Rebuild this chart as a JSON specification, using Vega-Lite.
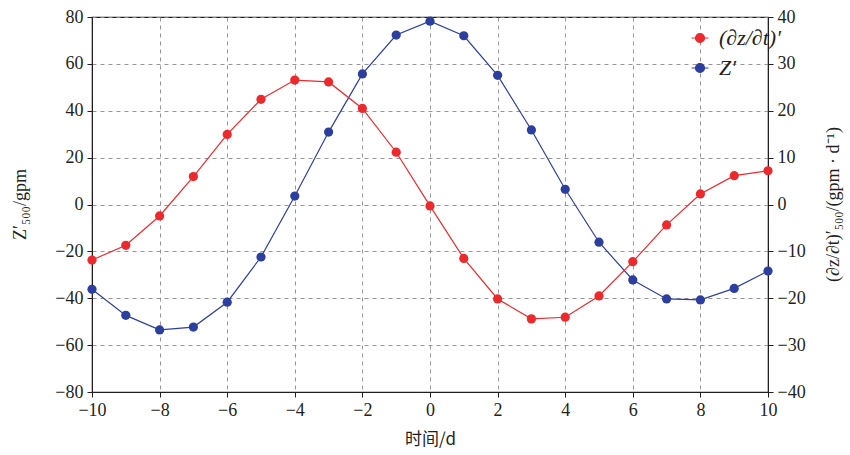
{
  "$schema": "https://vega.github.io/schema/vega-lite/v6.json",
  "width": 676,
  "height": 375,
  "autosize": {"type": "none"},
  "padding": {"left": 92, "top": 17, "right": 82, "bottom": 63},
  "background": "white",
  "config": {
    "font": "Liberation Serif",
    "view": {"stroke": "#231f20", "strokeWidth": 1.2},
    "axis": {
      "labelFont": "Liberation Serif",
      "labelFontSize": 18,
      "labelColor": "#231f20",
      "labelFlush": false,
      "labelOverlap": false,
      "titleFont": "Liberation Serif",
      "titleFontSize": 18,
      "titleFontWeight": "normal",
      "titleColor": "#231f20",
      "domainColor": "#231f20",
      "tickColor": "#231f20",
      "gridColor": "#8a8a8a",
      "gridDash": [4, 4],
      "gridWidth": 0.9
    }
  },
  "data": {
    "values": [
      {"t": -10, "series": "Z′", "v": -36.2},
      {"t": -9, "series": "Z′", "v": -47.3},
      {"t": -8, "series": "Z′", "v": -53.5},
      {"t": -7, "series": "Z′", "v": -52.3},
      {"t": -6, "series": "Z′", "v": -41.7},
      {"t": -5, "series": "Z′", "v": -22.4},
      {"t": -4, "series": "Z′", "v": 3.6},
      {"t": -3, "series": "Z′", "v": 30.9},
      {"t": -2, "series": "Z′", "v": 55.7},
      {"t": -1, "series": "Z′", "v": 72.3},
      {"t": 0, "series": "Z′", "v": 78.2},
      {"t": 1, "series": "Z′", "v": 72.0},
      {"t": 2, "series": "Z′", "v": 55.1},
      {"t": 3, "series": "Z′", "v": 31.8},
      {"t": 4, "series": "Z′", "v": 6.5},
      {"t": 5, "series": "Z′", "v": -16.1},
      {"t": 6, "series": "Z′", "v": -32.2},
      {"t": 7, "series": "Z′", "v": -40.3},
      {"t": 8, "series": "Z′", "v": -40.7},
      {"t": 9, "series": "Z′", "v": -35.8},
      {"t": 10, "series": "Z′", "v": -28.4},
      {"t": -10, "series": "(∂z/∂t)′", "v": -11.85},
      {"t": -9, "series": "(∂z/∂t)′", "v": -8.7},
      {"t": -8, "series": "(∂z/∂t)′", "v": -2.45},
      {"t": -7, "series": "(∂z/∂t)′", "v": 5.95},
      {"t": -6, "series": "(∂z/∂t)′", "v": 14.95},
      {"t": -5, "series": "(∂z/∂t)′", "v": 22.45},
      {"t": -4, "series": "(∂z/∂t)′", "v": 26.55},
      {"t": -3, "series": "(∂z/∂t)′", "v": 26.15},
      {"t": -2, "series": "(∂z/∂t)′", "v": 20.5},
      {"t": -1, "series": "(∂z/∂t)′", "v": 11.15},
      {"t": 0, "series": "(∂z/∂t)′", "v": -0.3},
      {"t": 1, "series": "(∂z/∂t)′", "v": -11.5},
      {"t": 2, "series": "(∂z/∂t)′", "v": -20.15},
      {"t": 3, "series": "(∂z/∂t)′", "v": -24.4},
      {"t": 4, "series": "(∂z/∂t)′", "v": -24.05},
      {"t": 5, "series": "(∂z/∂t)′", "v": -19.5},
      {"t": 6, "series": "(∂z/∂t)′", "v": -12.2},
      {"t": 7, "series": "(∂z/∂t)′", "v": -4.35},
      {"t": 8, "series": "(∂z/∂t)′", "v": 2.25},
      {"t": 9, "series": "(∂z/∂t)′", "v": 6.15},
      {"t": 10, "series": "(∂z/∂t)′", "v": 7.2}
    ]
  },
  "encoding": {
    "x": {
      "field": "t",
      "type": "quantitative",
      "scale": {"domain": [-10, 10], "nice": false},
      "axis": {
        "values": [-10, -8, -6, -4, -2, 0, 2, 4, 6, 8, 10],
        "title": "时间/d",
        "labelFont": "Liberation Serif",
        "labelFlush": false,
        "titleFont": "Noto Sans CJK SC",
        "titleFontSize": 17,
        "titlePadding": 12,
        "tickSize": 5,
        "labelPadding": 4
      }
    },
    "color": {
      "field": "series",
      "type": "nominal",
      "scale": {"domain": ["(∂z/∂t)′", "Z′"], "range": ["#ec2a2e", "#2d3f9e"]},
      "legend": {
        "title": null,
        "orient": "none",
        "legendX": 597,
        "legendY": 10,
        "symbolType": "M-1,0L1,0M-0.53,0A0.53,0.53,0,1,0,0.53,0A0.53,0.53,0,1,0,-0.53,0Z",
        "symbolSize": 289,
        "symbolStrokeWidth": 1.2,
        "labelFont": "Liberation Serif",
        "labelFontSize": 22,
        "labelFontStyle": "italic",
        "labelColor": "#231f20",
        "rowPadding": 8,
        "labelOffset": 8,
        "encode": {
          "symbols": {
            "update": {
              "fill": {"scale": "color", "field": "value"},
              "stroke": {"scale": "color", "field": "value"},
              "strokeWidth": {"value": 1.2},
              "opacity": {"value": 1}
            }
          }
        }
      }
    }
  },
  "layer": [
    {
      "transform": [{"filter": "datum.series === 'Z′'"}],
      "encoding": {
        "y": {
          "field": "v",
          "type": "quantitative",
          "scale": {"domain": [-80, 80], "nice": false},
          "axis": {
            "orient": "left",
            "values": [-80, -60, -40, -20, 0, 20, 40, 60, 80],
            "title": "Z′₅₀₀/gpm",
            "labelFont": "Liberation Serif",
            "labelFlush": false,
            "titleX": -72,
            "titleY": 187,
            "titleAlign": "center",
            "titleBaseline": "middle",
            "tickSize": 5,
            "labelPadding": 4,
            "grid": true
          }
        }
      },
      "layer": [
        {"mark": {"type": "line", "strokeWidth": 1.2}},
        {"mark": {"type": "point", "filled": true, "size": 85, "opacity": 1}}
      ]
    },
    {
      "transform": [{"filter": "datum.series === '(∂z/∂t)′'"}],
      "encoding": {
        "y": {
          "field": "v",
          "type": "quantitative",
          "scale": {"domain": [-40, 40], "nice": false},
          "axis": {
            "orient": "right",
            "values": [-40, -30, -20, -10, 0, 10, 20, 30, 40],
            "title": "(∂z/∂t)′₅₀₀/(gpm · d⁻¹)",
            "labelFont": "Liberation Serif",
            "labelFlush": false,
            "titleX": 65,
            "titleY": 187,
            "titleAngle": 270,
            "titleAlign": "center",
            "titleBaseline": "middle",
            "tickSize": 5,
            "labelPadding": 4,
            "grid": false
          }
        }
      },
      "layer": [
        {"mark": {"type": "line", "strokeWidth": 1.2}},
        {"mark": {"type": "point", "filled": true, "size": 85, "opacity": 1}}
      ]
    }
  ],
  "resolve": {"scale": {"y": "independent"}, "axis": {"y": "independent"}}
}
